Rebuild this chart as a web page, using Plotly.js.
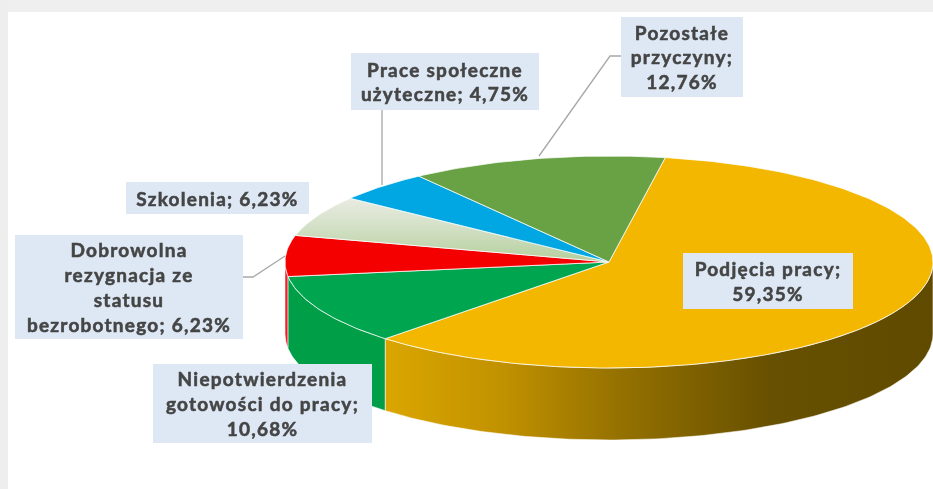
<!DOCTYPE html>
<html lang="pl">
<head>
<meta charset="utf-8">
<script src="https://cdn.plot.ly/plotly-3.0.1.min.js"></script>
<style>
html,body{margin:0;padding:0;background:#fff;overflow:hidden}
#chart{width:933px;height:489px;filter:blur(0.45px)}
.annotation-text{letter-spacing:1.25px;stroke:#454545;stroke-width:0.55px}
</style>
</head>
<body>
<div id="chart"></div>
<script>
// Data
const categories = ["Podjęcia pracy", "Niepotwierdzenia gotowości do pracy", "Dobrowolna rezygnacja ze statusu bezrobotnego", "Szkolenia", "Prace społeczne użyteczne", "Pozostałe przyczyny"];
const values = [59.35, 10.68, 6.23, 6.23, 4.75, 12.76];
const labelLines = [
  "Podjęcia pracy;<br>59,35%",
  "Niepotwierdzenia<br>gotowości do pracy;<br>10,68%",
  "Dobrowolna<br>rezygnacja ze<br>statusu<br>bezrobotnego; 6,23%",
  "Szkolenia; 6,23%",
  "Prace społeczne<br>użyteczne; 4,75%",
  "Pozostałe<br>przyczyny;<br>12,76%"
];

// Styles
const topColors = ["#f3b700", "#00a64f", "#f50000", null, "#00a7e3", "#69a245"];
const wallColors = ["yellow", "#009f47", "#e8202a", null, null, null];
const wallScale = [[0, "#dba600"], [0.2, "#c39300"], [0.42, "#967200"], [0.7, "#675000"], [1, "#5f4a00"]];
const paleScale = [[0, "#e9ece2"], [0.45, "#d3e0c6"], [1, "#b4cf9c"]];

// Geometry of the drawing
const cx = 609, cy = 262, rx = 324, ry = 106, depth = 72, startAngle = 10;
const labelBoxes = [
  [683, 253, 170, 56], [153, 364, 219, 79], [15, 235, 228, 104],
  [126, 182, 183, 32], [351, 53, 188, 57], [621, 17, 122, 80]
];
const leaders = [
  {x: [621, 610, 539], y: [56, 56, 156]},
  {x: [382, 382], y: [110, 185]},
  {x: [243, 253, 285], y: [277, 277, 256]}
];

const rad = d => d * Math.PI / 180;
const ex = a => cx + rx * Math.sin(rad(a));
const ey = a => cy - ry * Math.cos(rad(a));

function arc(a0, a1, dy) {
  const xs = [], ys = [], n = Math.max(2, Math.ceil(Math.abs(a1 - a0)));
  for (let i = 0; i <= n; i++) {
    const a = a0 + (a1 - a0) * i / n;
    xs.push(ex(a)); ys.push(ey(a) + dy);
  }
  return [xs, ys];
}

const total = values.reduce((s, v) => s + v, 0);
let cursor = startAngle;
const spans = values.map(v => {
  const s = [cursor, cursor + v / total * 360];
  cursor = s[1];
  return s;
});

const traces = [];

// side walls, back to front: only the parts facing the viewer (90..270 degrees)
[2, 1, 0].forEach(i => {
  const a0 = Math.max(spans[i][0], 90), a1 = Math.min(spans[i][1], 270);
  if (a1 <= a0) return;
  const [tx, ty] = arc(a0, a1, 0);
  const [bx, by] = arc(a1, a0, depth);
  const t = {
    type: "scatter", mode: "lines", fill: "toself", hoverinfo: "skip",
    x: tx.concat(bx, [tx[0]]), y: ty.concat(by, [ty[0]]),
    line: {color: "rgba(255,255,255,0.55)", width: 1}
  };
  if (i === 0) t.fillgradient = {type: "horizontal", colorscale: wallScale};
  else t.fillcolor = wallColors[i];
  traces.push(t);
});

// top faces
values.forEach((v, i) => {
  const [ax, ay] = arc(spans[i][0], spans[i][1], 0);
  const t = {
    type: "scatter", mode: "lines", fill: "toself", name: categories[i], hoverinfo: "name",
    x: [cx].concat(ax, [cx]), y: [cy].concat(ay, [cy]),
    line: {color: "rgba(255,255,255,0.75)", width: 1}
  };
  if (topColors[i]) t.fillcolor = topColors[i];
  else t.fillgradient = {type: "vertical", colorscale: paleScale, start: ey(spans[i][1]), stop: cy};
  traces.push(t);
});

// leader lines
leaders.forEach(l => traces.push({
  type: "scatter", mode: "lines", hoverinfo: "skip", x: l.x, y: l.y,
  line: {color: "#a8a8a8", width: 1.3}
}));

const annotations = labelLines.map((txt, i) => {
  const b = labelBoxes[i];
  return {
    text: "<b>" + txt + "</b>", showarrow: false, xref: "x", yref: "y",
    x: b[0], y: b[1], xanchor: "left", yanchor: "top",
    width: b[2], height: b[3], align: "center", valign: "middle",
    bgcolor: "#dde8f4", borderpad: 0, borderwidth: 0,
    font: {family: "Lato, sans-serif", size: 19, color: "#454545"}
  };
});

const layout = {
  width: 933, height: 489, autosize: false, showlegend: false,
  margin: {l: 0, r: 0, t: 0, b: 0},
  paper_bgcolor: "#ffffff", plot_bgcolor: "#ffffff",
  xaxis: {range: [0, 933], visible: false, fixedrange: true},
  yaxis: {range: [489, 0], visible: false, fixedrange: true},
  shapes: [
    {type: "rect", layer: "below", xref: "x", yref: "y", x0: 0, x1: 933, y0: 0, y1: 12, fillcolor: "#efefef", line: {width: 0}},
    {type: "rect", layer: "below", xref: "x", yref: "y", x0: 0, x1: 8, y0: 0, y1: 489, fillcolor: "#eeeeee", line: {width: 0}}
  ],
  annotations
};

Plotly.newPlot("chart", traces, layout, {displayModeBar: false, staticPlot: true});
</script>
</body>
</html>
